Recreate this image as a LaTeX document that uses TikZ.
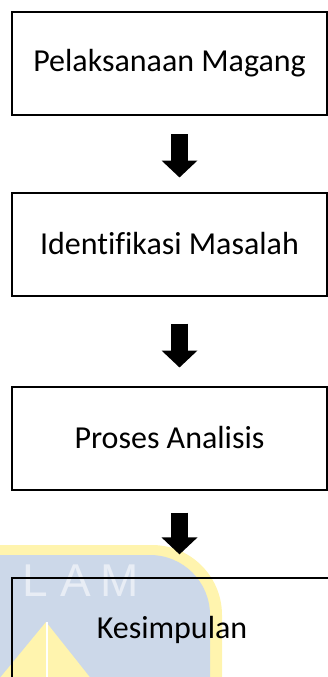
\documentclass[tikz,border=0pt]{standalone}
\usepackage{fontspec}
\setmainfont{Carlito}[Ligatures=CommonOff]
\newfontfamily\logofont{Liberation Sans}
\usetikzlibrary{arrows.meta}
\definecolor{wmblue}{HTML}{CCD8E9}
\definecolor{wmyellow}{HTML}{FFF4AE}
\definecolor{wmtext}{HTML}{E8EDF5}
\begin{document}
\begin{tikzpicture}[x=1pt,y=-1pt,
        stage/.style={draw,line width=2pt,minimum width=315pt,minimum height=103pt,inner sep=0pt,font=\fontsize{32}{36}\selectfont},
        blockarrow/.style={line width=17pt,-{Triangle[width=35pt,length=17pt]}},
        logoletter/.style={text=wmtext,inner sep=0pt,font=\logofont\fontsize{46}{46}\selectfont}]
    \useasboundingbox (0,0) rectangle (328,677);
    % Watermark
    \begin{scope}
        \clip (0,0) rectangle (328,677);
        \fill[wmyellow,rounded corners=70pt] (-100,545) rectangle (222,800);
        \fill[wmblue,rounded corners=60pt] (-100,555) rectangle (210,800);
        \node[logoletter] (logoL) at (35,581) {L};
        \node[logoletter] (logoA) at (76,581) {A};
        \node[logoletter] (logoM) at (120,581) {M};
        \fill[wmyellow] (46,622) -- (-10,690) -- (100,690) -- cycle;
        \draw[white,line width=1.5pt] (47,622) -- (47,690);
    \end{scope}
    % Stages
    \node[stage] (pelaksanaan) at (169.5,63.5) {Pelaksanaan Magang};
    \node[stage] (identifikasi) at (169.5,244) {Identifikasi Masalah};
    \node[stage] (analisis) at (169.5,438) {Proses Analisis};
    \node[stage,line width=1.2pt,minimum width=320pt] (kesimpulan) at (172,629.5) {Kesimpulan};
    % Arrows
    \draw[blockarrow] ([xshift=10pt,yshift=-18pt]pelaksanaan.south) -- ([xshift=10pt,yshift=14pt]identifikasi.north);
    \draw[blockarrow] ([xshift=10pt,yshift=-27pt]identifikasi.south) -- ([xshift=10pt,yshift=18pt]analisis.north);
    \draw[blockarrow] ([xshift=10pt,yshift=-22pt]analisis.south) -- ([xshift=7.5pt,yshift=23pt]kesimpulan.north);
\end{tikzpicture}
\end{document}
